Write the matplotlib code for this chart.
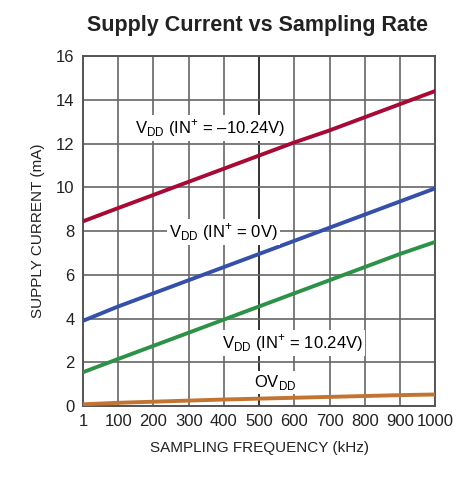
import numpy as np
import matplotlib
matplotlib.use("Agg")
import matplotlib.pyplot as plt

plt.rcParams['font.family'] = ['Liberation Sans', 'DejaVu Sans']
plt.rcParams['mathtext.fontset'] = 'custom'
plt.rcParams['mathtext.rm'] = 'Liberation Sans'

# sampling frequency (kHz) and supply current (mA)
freq = [1, 100, 200, 300, 400, 500, 600, 700, 800, 900, 1000]
vdd_neg = [8.45, 9.05, 9.65, 10.25, 10.85, 11.45, 12.05, 12.6, 13.2, 13.8, 14.4]
vdd_zero = [3.9, 4.55, 5.15, 5.75, 6.35, 6.95, 7.55, 8.15, 8.75, 9.35, 9.95]
vdd_pos = [1.55, 2.15, 2.75, 3.35, 3.95, 4.55, 5.15, 5.75, 6.35, 6.95, 7.5]
ovdd = [0.08, 0.15, 0.2, 0.25, 0.3, 0.34, 0.38, 0.42, 0.46, 0.5, 0.53]

xticks = [0, 100, 200, 300, 400, 500, 600, 700, 800, 900, 1000]
xlabels = ["1", "100", "200", "300", "400", "500", "600", "700", "800", "900", "1000"]

fig = plt.figure(figsize=(4.72, 4.8), dpi=100)
ax = fig.add_axes([0.176, 0.154, 0.746, 0.729])

x = np.array(freq) - 1
ax.plot(x, vdd_neg, color="#a50b35", lw=2.8, zorder=3)
ax.plot(x, vdd_zero, color="#3450a8", lw=2.8, zorder=3)
ax.plot(x, vdd_pos, color="#2e9148", lw=2.8, zorder=3)
ax.plot(x, ovdd, color="#c27430", lw=2.8, zorder=3)

ax.set_xlim(0, 1000)
ax.set_ylim(0, 16)
ax.set_xticks(xticks)
ax.set_xticklabels(xlabels)
ax.set_yticks(np.arange(0, 17, 2))
ax.tick_params(length=0, labelsize=12, pad=6, colors="#222222")
ax.grid(True, color="#666666", lw=1.2, zorder=0)
for gl in ax.get_xgridlines():
    if gl.get_xdata()[0] == 500:
        gl.set_color("#111111")
for s in ax.spines.values():
    s.set_color("#555555")
    s.set_linewidth(1.4)

box = dict(facecolor="white", edgecolor="none", pad=1.5)
ax.text(361, 12.7, r"V$_{\mathregular{DD}}$ (IN$^{\mathregular{+}}$ = –10.24V)",
        ha="center", va="center", fontsize=12, bbox=box, zorder=4)
ax.text(398, 7.95, r"V$_{\mathregular{DD}}$ (IN$^{\mathregular{+}}$ = 0V)",
        ha="center", va="center", fontsize=12, bbox=box, zorder=4)
ax.text(594, 2.9, r"V$_{\mathregular{DD}}$ (IN$^{\mathregular{+}}$ = 10.24V)",
        ha="center", va="center", fontsize=12, bbox=box, zorder=4)
ax.text(545, 1.1, r"OV$_{\mathregular{DD}}$",
        ha="center", va="center", fontsize=12, bbox=box, zorder=4)

ax.set_xlabel("SAMPLING FREQUENCY (kHz)", fontsize=11, color="#222222", labelpad=8)
ax.set_ylabel("SUPPLY CURRENT (mA)", fontsize=11, color="#222222", labelpad=8)
fig.suptitle("Supply Current vs Sampling Rate", fontsize=15.5, fontweight="bold",
             color="#222222", x=0.545, y=0.968)

fig.savefig("out.png", dpi=100)
